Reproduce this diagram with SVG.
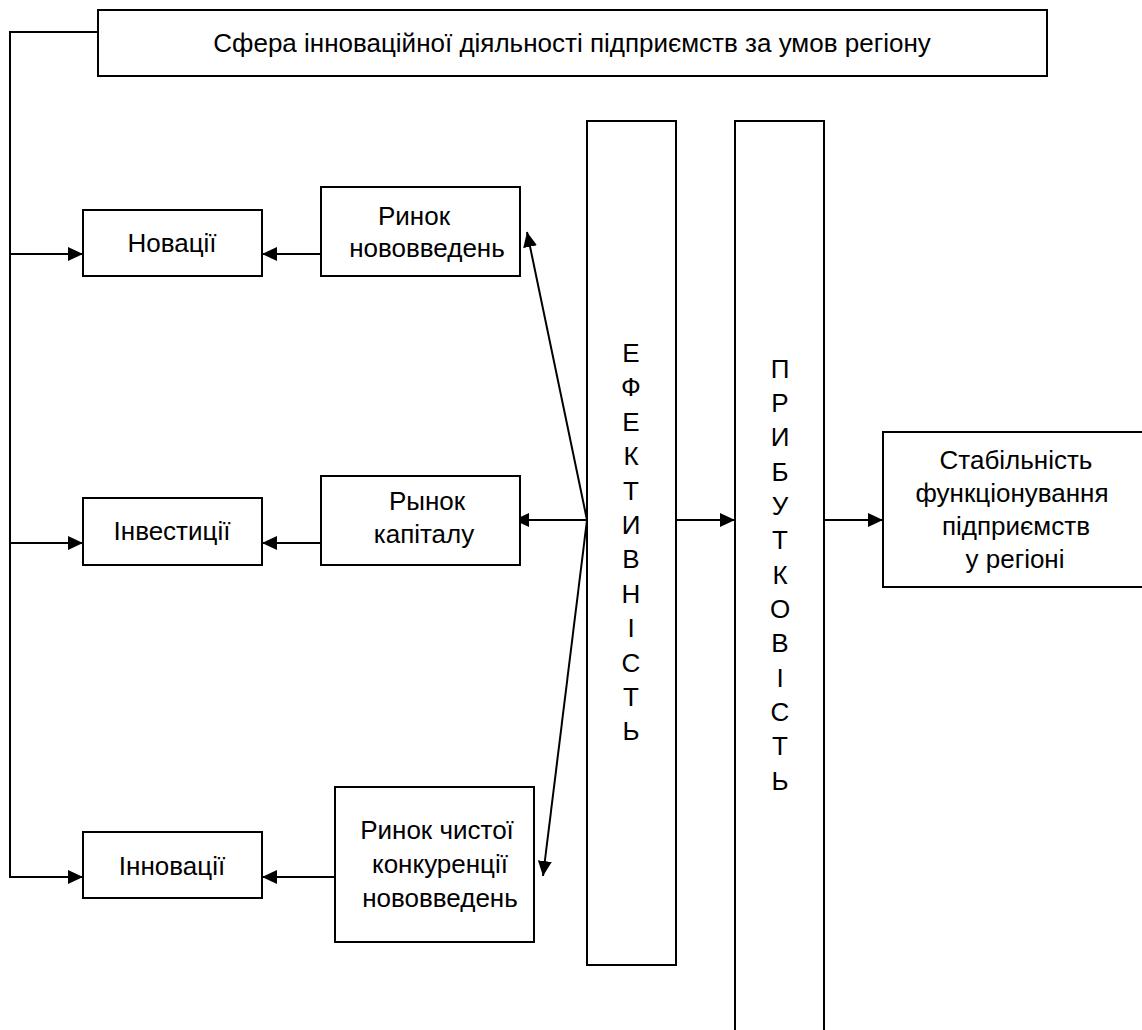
<svg xmlns="http://www.w3.org/2000/svg" width="1142" height="1030" viewBox="0 0 1142 1030">
<defs>
<style>
.box{fill:#fff;stroke:#000;stroke-width:2}
.ln{fill:none;stroke:#000;stroke-width:2}
text{font-family:"Liberation Sans",Arial,sans-serif;font-size:26px;fill:#000;text-anchor:middle}
</style>
<marker id="ah" viewBox="0 0 15 14" refX="15" refY="7" markerWidth="15" markerHeight="14" markerUnits="userSpaceOnUse" orient="auto">
<path d="M0,0 L15,7 L0,14 Z" fill="#000"/>
</marker>
</defs>
<rect width="1142" height="1030" fill="#fff"/>
<g id="connectors">
<polyline class="ln" points="98,32 10,32 10,878"/>
<line class="ln" x1="10" y1="254" x2="83" y2="254" marker-end="url(#ah)"/>
<line class="ln" x1="10" y1="543" x2="83" y2="543" marker-end="url(#ah)"/>
<line class="ln" x1="10" y1="877" x2="83" y2="877" marker-end="url(#ah)"/>
<line class="ln" x1="321" y1="254" x2="262" y2="254" marker-end="url(#ah)"/>
<line class="ln" x1="321" y1="543" x2="262" y2="543" marker-end="url(#ah)"/>
<line class="ln" x1="335" y1="877" x2="262" y2="877" marker-end="url(#ah)"/>
<line class="ln" x1="587" y1="520" x2="514" y2="520" marker-end="url(#ah)"/>
<line class="ln" x1="587" y1="520" x2="527" y2="232" marker-end="url(#ah)"/>
<line class="ln" x1="587" y1="520" x2="543" y2="876" marker-end="url(#ah)"/>
<line class="ln" x1="676" y1="520" x2="735" y2="520" marker-end="url(#ah)"/>
<line class="ln" x1="824" y1="520" x2="883" y2="520" marker-end="url(#ah)"/>
</g>
<g id="sfera">
<rect class="box" x="98" y="10" width="949" height="66"/>
<text x="572" y="52">Сфера інноваційної діяльності підприємств за умов регіону</text>
</g>
<g id="novatsii">
<rect class="box" x="83" y="210" width="179" height="66"/>
<text x="172" y="252">Новації</text>
</g>
<g id="rynok-novovveden">
<rect class="box" x="321" y="187" width="199" height="89"/>
<text x="414" y="225">Ринок</text>
<text x="427" y="257">нововведень</text>
</g>
<g id="investytsii">
<rect class="box" x="83" y="498" width="179" height="67"/>
<text x="172" y="540">Інвестиції</text>
</g>
<g id="rynok-kapitalu">
<rect class="box" x="321" y="476" width="199" height="89"/>
<text x="427" y="510">Рынок</text>
<text x="424" y="543">капіталу</text>
</g>
<g id="innovatsii">
<rect class="box" x="83" y="832" width="179" height="66"/>
<text x="172" y="875">Інновації</text>
</g>
<g id="rynok-chystoi">
<rect class="box" x="335" y="787" width="199" height="155"/>
<text x="437" y="839">Ринок чистої</text>
<text x="440" y="873">конкуренції</text>
<text x="440" y="907">нововведень</text>
</g>
<g id="efektyvnist">
<rect class="box" x="587" y="121" width="89" height="844"/>
<text x="631" y="362">Е</text>
<text x="631" y="396">Ф</text>
<text x="631" y="431">Е</text>
<text x="631" y="465">К</text>
<text x="631" y="500">Т</text>
<text x="631" y="534">И</text>
<text x="631" y="568">В</text>
<text x="631" y="603">Н</text>
<text x="631" y="637">І</text>
<text x="631" y="672">С</text>
<text x="631" y="706">Т</text>
<text x="631" y="740">Ь</text>
</g>
<g id="prybutkovist">
<rect class="box" x="735" y="121" width="89" height="920"/>
<text x="780" y="378">П</text>
<text x="780" y="412">Р</text>
<text x="780" y="446">И</text>
<text x="780" y="481">Б</text>
<text x="780" y="515">У</text>
<text x="780" y="549">Т</text>
<text x="780" y="584">К</text>
<text x="780" y="618">О</text>
<text x="780" y="652">В</text>
<text x="780" y="687">І</text>
<text x="780" y="721">С</text>
<text x="780" y="755">Т</text>
<text x="780" y="790">Ь</text>
</g>
<g id="stabilnist">
<rect class="box" x="883" y="432" width="265" height="155"/>
<text x="1016" y="469">Стабільність</text>
<text x="1012" y="502">функціонування</text>
<text x="1016" y="535">підприємств</text>
<text x="1015" y="568">у регіоні</text>
</g>
</svg>
